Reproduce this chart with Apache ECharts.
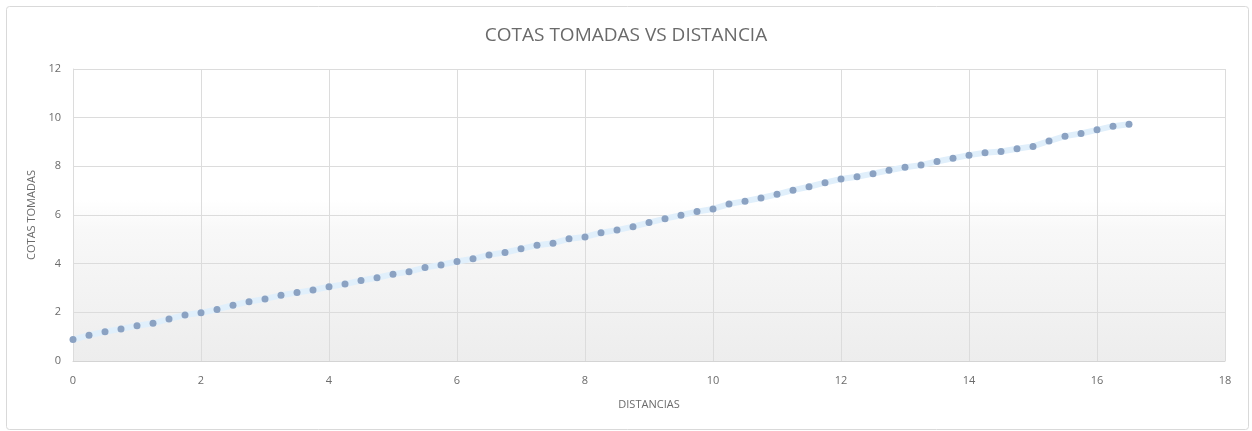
<!DOCTYPE html>
<html>
<head>
<meta charset="utf-8">
<script src="https://cdn.jsdelivr.net/npm/echarts@6/dist/echarts.min.js"></script>
<style>
  html, body { margin: 0; padding: 0; background: #ffffff; }
  #chart { width: 1252px; height: 431px; }
</style>
</head>
<body>
<div id="chart"></div>
<script>
// Distancia (m) de cada lectura
const distancias = [
  0, 0.25, 0.5, 0.75, 1, 1.25, 1.5, 1.75, 2, 2.25, 2.5, 2.75, 3, 3.25, 3.5, 3.75,
  4, 4.25, 4.5, 4.75, 5, 5.25, 5.5, 5.75, 6, 6.25, 6.5, 6.75, 7, 7.25, 7.5, 7.75,
  8, 8.25, 8.5, 8.75, 9, 9.25, 9.5, 9.75, 10, 10.25, 10.5, 10.75, 11, 11.25, 11.5, 11.75,
  12, 12.25, 12.5, 12.75, 13, 13.25, 13.5, 13.75, 14, 14.25, 14.5, 14.75, 15, 15.25, 15.5, 15.75,
  16, 16.25, 16.5
];

// Cota tomada en cada distancia
const cotas = [
  0.88, 1.06, 1.20, 1.32, 1.45, 1.55, 1.73, 1.89, 1.98, 2.12, 2.29, 2.44, 2.55, 2.70, 2.81, 2.92,
  3.05, 3.16, 3.31, 3.42, 3.57, 3.67, 3.84, 3.95, 4.09, 4.20, 4.36, 4.46, 4.61, 4.76, 4.84, 5.02,
  5.10, 5.27, 5.38, 5.52, 5.69, 5.85, 5.99, 6.14, 6.25, 6.45, 6.57, 6.70, 6.85, 7.02, 7.16, 7.33,
  7.48, 7.57, 7.70, 7.84, 7.96, 8.05, 8.20, 8.33, 8.46, 8.56, 8.61, 8.72, 8.82, 9.04, 9.24, 9.35,
  9.50, 9.65, 9.73
];

const titulo = 'COTAS TOMADAS VS DISTANCIA';
const ejeX = 'DISTANCIAS';
const ejeY = 'COTAS TOMADAS';

const puntos = distancias.map((d, i) => [d, cotas[i]]);

const chart = echarts.init(document.getElementById('chart'), null, { renderer: 'canvas' });

const labelColor = '#6b6b6b';
const gridColor = '#dcdcdc';
const fontFamily = '"Open Sans", "Liberation Sans", sans-serif';

chart.setOption({
  animation: false,
  backgroundColor: '#ffffff',
  graphic: [{
    type: 'rect',
    z: -10,
    shape: { x: 6.5, y: 6.5, width: 1242, height: 423, r: 3 },
    style: { fill: '#ffffff', stroke: '#d9d9d9', lineWidth: 1 }
  }],
  title: {
    text: titulo,
    left: 'center',
    top: 21,
    textStyle: {
      fontFamily: fontFamily,
      fontSize: 19,
      fontWeight: 'normal',
      color: '#6a6a6a'
    }
  },
  grid: {
    left: 73,
    right: 27,
    top: 69,
    bottom: 70,
    show: true,
    borderWidth: 0,
    backgroundColor: {
      type: 'linear', x: 0, y: 0, x2: 0, y2: 1,
      colorStops: [
        { offset: 0, color: '#ffffff' },
        { offset: 0.45, color: '#ffffff' },
        { offset: 0.55, color: '#f8f8f8' },
        { offset: 1, color: '#ededed' }
      ]
    }
  },
  xAxis: {
    type: 'value',
    min: 0,
    max: 18,
    interval: 2,
    name: ejeX,
    nameLocation: 'middle',
    nameGap: 38,
    nameTextStyle: { fontFamily: fontFamily, fontSize: 11, color: labelColor },
    axisLine: { show: true, lineStyle: { color: '#d4d4d4', width: 1 } },
    axisTick: { show: false },
    axisLabel: { fontFamily: fontFamily, fontSize: 11, color: labelColor, margin: 14 },
    splitLine: { show: true, lineStyle: { color: gridColor, width: 1 } }
  },
  yAxis: {
    type: 'value',
    min: 0,
    max: 12,
    interval: 2,
    name: ejeY,
    nameLocation: 'middle',
    nameGap: 33,
    nameRotate: 90,
    nameTextStyle: { fontFamily: fontFamily, fontSize: 11, color: labelColor },
    axisLine: { show: true, lineStyle: { color: gridColor, width: 1 } },
    axisTick: { show: false },
    axisLabel: { fontFamily: fontFamily, fontSize: 11, color: labelColor, margin: 12 },
    splitLine: { show: true, lineStyle: { color: gridColor, width: 1 } }
  },
  series: [{
    type: 'line',
    data: puntos,
    symbol: 'circle',
    symbolSize: 7,
    itemStyle: { color: '#8ba2c2', borderWidth: 0 },
    lineStyle: { color: '#e0effb', width: 6 },
    z: 3
  }]
});
</script>
</body>
</html>
